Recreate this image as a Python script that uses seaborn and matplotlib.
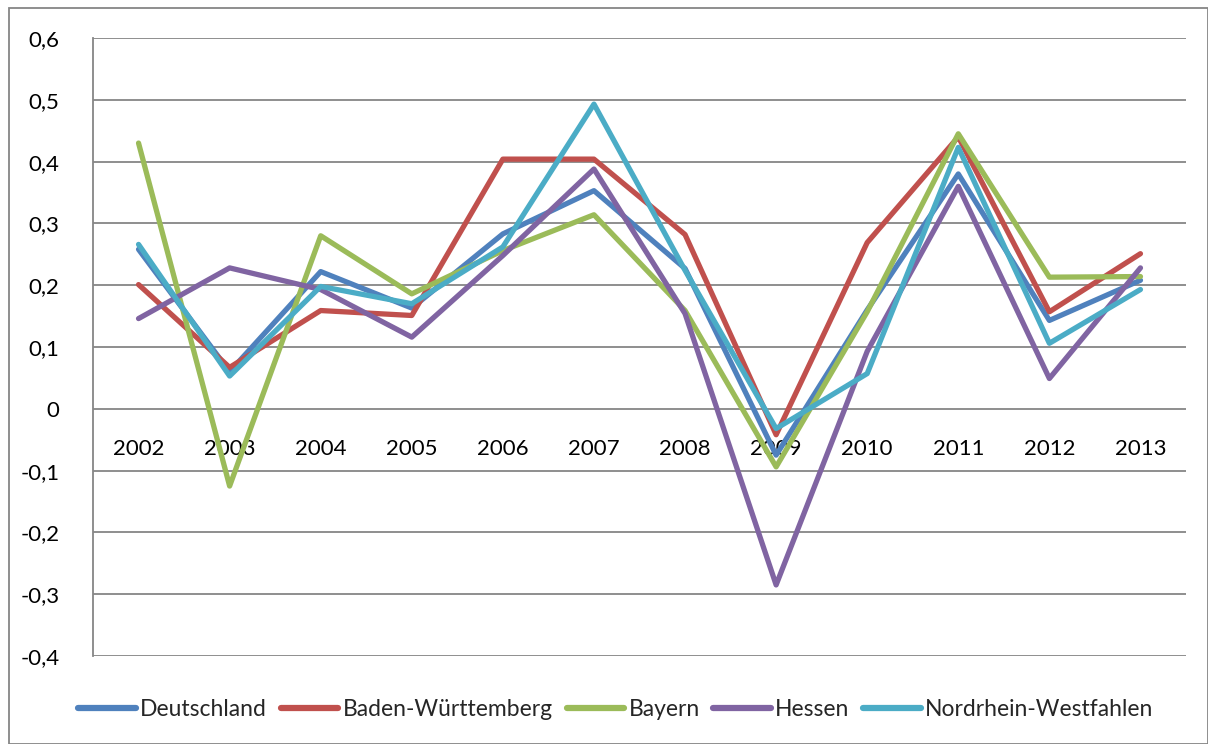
import matplotlib
matplotlib.use("Agg")
import matplotlib.pyplot as plt
import seaborn as sns
import pandas as pd
from matplotlib.patches import Rectangle

years = ["2002", "2003", "2004", "2005", "2006", "2007",
         "2008", "2009", "2010", "2011", "2012", "2013"]
deutschland = [0.258, 0.060, 0.222, 0.163, 0.283, 0.353, 0.227, -0.075, 0.160, 0.380, 0.143, 0.208]
baden_wuerttemberg = [0.201, 0.067, 0.159, 0.151, 0.404, 0.404, 0.282, -0.042, 0.269, 0.440, 0.157, 0.251]
bayern = [0.430, -0.125, 0.280, 0.186, 0.256, 0.314, 0.159, -0.094, 0.157, 0.445, 0.213, 0.214]
hessen = [0.146, 0.228, 0.193, 0.116, 0.248, 0.388, 0.154, -0.285, 0.093, 0.360, 0.049, 0.228]
nrw = [0.266, 0.053, 0.198, 0.170, 0.262, 0.493, 0.224, -0.032, 0.057, 0.423, 0.106, 0.193]

series_names = ["Deutschland", "Baden-Württemberg", "Bayern", "Hessen", "Nordrhein-Westfahlen"]
series_values = [deutschland, baden_wuerttemberg, bayern, hessen, nrw]
colors = ["#4F81BD", "#C0504D", "#9BBB59", "#8064A2", "#4BACC6"]
y_ticks = [-0.4, -0.3, -0.2, -0.1, 0.0, 0.1, 0.2, 0.3, 0.4, 0.5, 0.6]


def fmt(t):
    if abs(t) < 1e-9:
        return "0"
    return f"{t:.1f}".replace(".", ",")


rows = []
for name, vals in zip(series_names, series_values):
    for i, (yr, v) in enumerate(zip(years, vals)):
        rows.append({"idx": i, "Jahr": yr, "Wert": v, "Region": name})
df = pd.DataFrame(rows)

sns.set_theme(style="white")
plt.rcParams["font.family"] = ["Lato", "DejaVu Sans"]

fig = plt.figure(figsize=(12.08, 7.44), dpi=100)
ax = fig.add_axes([93 / 1208, 1 - 656 / 744, (1186 - 93) / 1208, (656 - 38) / 744])

for t in y_ticks:
    ax.axhline(t, color="#868686", linewidth=1.3, zorder=1)

sns.lineplot(data=df, x="idx", y="Wert", hue="Region", hue_order=series_names,
             palette=colors, linewidth=3.8, ax=ax, sort=False, zorder=3)

ax.spines["bottom"].set_position(("data", 0))
ax.spines["bottom"].set_visible(False)
ax.spines["top"].set_visible(False)
ax.spines["right"].set_visible(False)
ax.spines["left"].set_color("#868686")
ax.spines["left"].set_linewidth(1.3)

ax.set_xlim(-0.5, len(years) - 0.5)
ax.set_ylim(-0.4, 0.6)
ax.set_yticks(y_ticks)
ax.set_yticklabels([fmt(t) for t in y_ticks])
ax.set_xticks(range(len(years)))
ax.set_xticklabels(years)
ax.tick_params(axis="x", length=0, pad=22, labelsize=16, labelcolor="black")
ax.tick_params(axis="y", length=0, pad=24, labelsize=16, labelcolor="black")
ax.set_xlabel("")
ax.set_ylabel("")

handles, labels = ax.get_legend_handles_labels()
ax.legend(handles, labels, loc="center", bbox_to_anchor=(616 / 1208, 1 - 710 / 744),
          bbox_transform=fig.transFigure, ncol=5, frameon=False, fontsize=16.5,
          handlelength=2.5, handletextpad=0.2, columnspacing=0.6, borderaxespad=0)
for line in ax.get_legend().get_lines():
    line.set_linewidth(4.5)

fig.patches.append(Rectangle((9 / 1208, 0), 1 - 9 / 1208, 1 - 8 / 744, transform=fig.transFigure,
                             fill=False, edgecolor="#868686", linewidth=1.3))

fig.savefig("out.png", dpi=100, facecolor="white")
